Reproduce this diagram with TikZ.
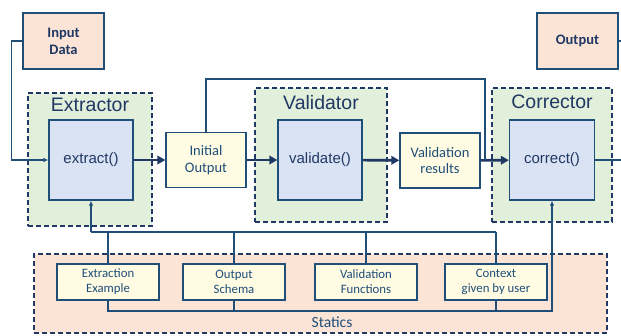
\documentclass[tikz,border=0pt]{standalone}
\usepackage{fontspec}
\setmainfont{Carlito}
\newfontfamily\arialf{Liberation Sans}
\usetikzlibrary{arrows.meta}
\definecolor{dblue}{HTML}{1F4E79}
\definecolor{tblue}{HTML}{203864}
\definecolor{gfill}{HTML}{E2EFDA}
\definecolor{lfill}{HTML}{DAE3F3}
\definecolor{yfill}{HTML}{FFFCE3}
\definecolor{pfill}{HTML}{FBE4D6}
\begin{document}
\begin{tikzpicture}[x=1pt,y=-1pt,
  group/.style={draw=tblue, fill=gfill, dash pattern=on 5pt off 3pt, line width=1.8pt, inner sep=0pt},
  statgroup/.style={group, fill=pfill},
  title/.style={text=tblue, font=\arialf\fontsize{19.5}{22}\selectfont, inner sep=0pt},
  func/.style={draw=dblue, fill=lfill, line width=1.3pt, minimum width=84pt, minimum height=80pt, inner sep=0pt, text=tblue, font=\arialf\fontsize{15}{18}\selectfont},
  data/.style={draw=dblue, fill=yfill, line width=1.3pt, minimum width=80pt, minimum height=55pt, inner sep=0pt, align=center, text=dblue, font=\fontsize{14.5}{16.5}\selectfont},
  io/.style={draw=dblue, fill=pfill, line width=1.3pt, minimum width=81pt, minimum height=56pt, inner sep=0pt, align=center, text=tblue, font=\bfseries\fontsize{14.5}{17}\selectfont},
  stat/.style={draw=dblue, fill=yfill, line width=1.3pt, minimum width=102pt, minimum height=36pt, inner sep=0pt, align=center, text=dblue, font=\fontsize{12.8}{15}\selectfont},
  conn/.style={draw=dblue, line width=1.45pt},
  small/.style={-{Latex[length=5pt,width=4.5pt]}},
  main/.style={draw=tblue, line width=2.6pt, -{Triangle[length=8pt,width=8.5pt]}}
]
\useasboundingbox (0,0) rectangle (621,335);
% groups
\node[group, minimum width=124pt, minimum height=133pt] (gext) at (90,159.5) {};
\node[group, minimum width=132pt, minimum height=134pt] (gval) at (321,155) {};
\node[group, minimum width=120pt, minimum height=134pt] (gcor) at (552,155) {};
\node[statgroup, minimum width=573pt, minimum height=79pt] (gstat) at (320.5,293.5) {};
% titles
\node[title] (text) at (90,105) {Extractor};
\node[title] (tval) at (321,103) {Validator};
\node[title] (tcor) at (552,101.5) {Corrector};
\node[text=dblue, font=\fontsize{15.5}{18}\selectfont, inner sep=0pt] (tstat) at (332,322.5) {Statics};
% boxes
\node[io] (indata) at (63.5,41) {Input\\Data};
\node[io] (output) at (577.5,41) {Output};
\node[func] (extract) at (91,160) {extract()};
\node[func] (validate) at (320,160) {validate()};
\node[func, minimum width=85pt] (correct) at (552,160) {correct()};
\node[data] (initout) at (206,160) {Initial\\Output};
\node[data] (vres) at (440,160.5) {Validation\\results};
\node[stat] (ex) at (108,282) {Extraction\\Example};
\node[stat] (os) at (234,282) {Output\\Schema};
\node[stat] (vf) at (366,282) {Validation\\Functions};
\node[stat, line width=1.7pt] (ctx) at (496,282) {Context\\given by user};
% coordinates
\coordinate (looptop) at (485,79);
\coordinate (loopc) at (485,160);
\coordinate (outc) at (626,160);
\coordinate (tl) at (91,232);
\coordinate (tr) at (496,232);
\coordinate (bl) at (108,311);
\coordinate (br) at (552,311);
% connectors
\draw[conn, small] (indata.west) -- ++(-11,0) |- (extract.west);
\draw[main] (extract) -- (initout);
\draw[main] (initout) -- (validate);
\draw[main] (validate) -- (vres);
\draw[main] (vres) -- (correct);
\draw[conn] (initout.north) |- (looptop) -- (loopc);
\draw[conn] (correct.east) -- (outc) |- (output.east);
\draw[conn, small] (tl) -- (extract.south);
\draw[conn] (tl) -- (tr);
\draw[conn] (ex.north) -- (ex.north |- tl);
\draw[conn] (os.north) -- (os.north |- tl);
\draw[conn] (vf.north) -- (vf.north |- tl);
\draw[conn] (ctx.north) -- (tr);
\draw[conn, small] (ex.south) |- (br) -- (correct.south);
\draw[conn] (os.south) -- (os.south |- bl);
\draw[conn] (ctx.south) -- (ctx.south |- bl);
\end{tikzpicture}
\end{document}
